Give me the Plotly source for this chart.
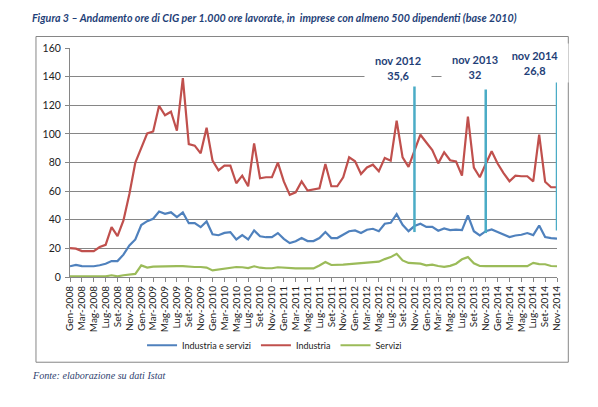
import plotly.graph_objects as go

# ---------------- data ----------------
month_names = ["Gen", "Feb", "Mar", "Apr", "Mag", "Giu", "Lug", "Ago", "Set", "Ott", "Nov", "Dic"]
years = [2008, 2009, 2010, 2011, 2012, 2013, 2014]
categories = [f"{m}-{y}" for y in years for m in month_names][:83]  # Gen-2008 .. Nov-2014

industria_servizi = [
    7.5, 8.4, 7.6, 7.5, 7.5, 8.2, 9.2, 11.1, 11.1, 15.6, 22.0, 26.2,
    36.3, 39.0, 40.7, 45.8, 44.2, 45.2, 41.8, 45.1, 37.6, 37.6, 34.8, 38.8,
    29.9, 29.2, 30.8, 31.4, 26.2, 29.3, 26.2, 32.5, 28.5, 27.8, 27.8, 30.7,
    26.7, 23.7, 25.0, 27.2, 25.1, 25.1, 27.2, 31.4, 27.2, 27.2, 29.7, 32.0,
    32.5, 30.7, 33.0, 33.7, 32.0, 37.2, 37.9, 43.9, 36.5, 32.0, 35.6, 37.2,
    35.0, 35.0, 32.3, 33.9, 32.8, 33.1, 32.8, 43.0, 32.0, 29.0, 32.0, 33.2,
    31.4, 29.7, 27.9, 29.0, 29.5, 30.7, 29.3, 36.0, 27.9, 27.2, 26.8,
]
industria = [
    20.2, 19.8, 18.1, 18.1, 18.1, 20.9, 22.5, 34.8, 28.6, 39.5, 58.0, 80.0,
    89.5, 100.3, 101.7, 119.6, 113.0, 115.5, 102.2, 139.0, 92.8, 91.8, 86.4, 104.3,
    81.3, 74.5, 77.8, 77.8, 65.5, 70.8, 63.4, 93.4, 69.0, 69.7, 69.7, 79.9,
    66.8, 57.4, 59.2, 66.8, 60.4, 61.1, 62.0, 79.0, 63.4, 63.4, 69.7, 83.6,
    80.8, 72.0, 76.5, 78.5, 73.9, 83.2, 81.3, 109.2, 83.6, 76.9, 87.5, 99.4,
    94.0, 88.7, 79.4, 87.1, 81.6, 80.7, 70.8, 112.1, 76.5, 69.7, 79.0, 87.8,
    79.3, 72.6, 66.9, 70.8, 70.4, 70.4, 66.8, 99.4, 66.6, 62.7, 62.7,
]
servizi = [
    0.5, 0.5, 0.5, 0.5, 0.5, 0.5, 0.5, 1.2, 0.5, 1.2, 1.9, 2.2,
    8.1, 6.6, 7.3, 7.5, 7.6, 7.6, 7.6, 7.6, 7.1, 7.0, 7.0, 6.6,
    4.6, 5.3, 5.6, 6.8, 7.0, 6.8, 6.2, 7.5, 6.5, 6.1, 6.1, 6.8,
    6.4, 6.0, 6.0, 6.0, 6.0, 6.0, 8.1, 10.5, 8.4, 8.4, 8.6, 9.0,
    9.3, 10.0, 10.1, 10.7, 10.7, 12.5, 13.9, 16.2, 11.6, 9.8, 9.3, 9.3,
    8.1, 8.6, 7.7, 7.1, 7.8, 9.3, 12.4, 13.9, 9.6, 7.7, 7.6, 7.6,
    7.6, 7.6, 7.6, 7.6, 7.6, 7.6, 9.9, 9.0, 8.9, 7.7, 7.5,
]
series_names = ["Industria e servizi", "Industria", "Servizi"]

callout_months = ["Nov-2012", "Nov-2013", "Nov-2014"]
callout_titles = ["nov 2012", "nov 2013", "nov 2014"]
callout_low = [31.4, 30.7, 32.5]
callout_high = 140

y_ticks = [0, 20, 40, 60, 80, 100, 120, 140, 160]
x_ticks = categories[::2]

title_text = "Figura 3 – Andamento ore di CIG per 1.000 ore lavorate, in  imprese con almeno 500 dipendenti (base 2010)"
source_text = "Fonte: elaborazione su dati Istat"

# ---------------- layout geometry (pixels, in page coordinates) ----------------
OFF = 8                      # default body margin of the html page
W, H = 598 - OFF, 407 - OFF  # figure size so that it fits the window exactly
PX0, PX1 = 70, 556.7         # plot area, page coordinates
PY0, PY1 = 47.5, 276.7


def px(xp):
    return (xp - PX0) / (PX1 - PX0)


def py(yp):
    return (PY1 - yp) / (PY1 - PY0)


colors = ["#4F81BD", "#C0504D", "#9BBB59"]
grid = "#868686"
navy = "#1F3F78"
font = "Lato"

fig = go.Figure()
for name, vals, col in zip(series_names, [industria_servizi, industria, servizi], colors):
    fig.add_trace(go.Scatter(x=categories, y=vals, mode="lines", name=name,
                             line=dict(color=col, width=2.2)))

shapes = [
    dict(type="rect", xref="paper", yref="paper", x0=px(36), x1=px(568), y0=py(362), y1=py(36),
         line=dict(color=grid, width=1), layer="below"),
]
for m, lo in zip(callout_months, callout_low):
    shapes.append(dict(type="line", xref="x", yref="y", x0=m, x1=m, y0=lo, y1=callout_high,
                       line=dict(color="#4BACC6", width=2.5), layer="above"))


def fmt(v):
    s = f"{v:.1f}"
    if s.endswith(".0"):
        s = s[:-2]
    return s.replace(".", ",")


callout_vals = [industria_servizi[categories.index(m)] for m in callout_months]
callout_pos = [(398, 68, 34), (475, 66.5, 42), (535, 63, 36)]
annotations = []
for t, v, (cx, cy, hh) in zip(callout_titles, callout_vals, callout_pos):
    annotations.append(dict(xref="paper", yref="paper", x=px(cx), y=py(cy), xanchor="center",
                            yanchor="middle", showarrow=False, text=f"<b>{t}<br>{fmt(v)}</b>",
                            font=dict(family=font, size=11, color=navy), bgcolor="white",
                            width=64, height=hh, align="center"))

annotations.append(dict(xref="paper", yref="paper", x=px(30), y=py(17), xanchor="left",
                        yanchor="middle", showarrow=False,
                        text=f"<b><i>{title_text}</i></b>",
                        font=dict(family=font, size=10.7, color=navy)))
annotations.append(dict(xref="paper", yref="paper", x=px(30), y=py(375), xanchor="left",
                        yanchor="middle", showarrow=False, text=f"<i>{source_text}</i>",
                        font=dict(family="Liberation Serif", size=10.1, color="#2F3F6F")))

fig.update_layout(
    width=W, height=H, autosize=False,
    margin=dict(l=PX0 - OFF, r=598 - PX1, t=PY0 - OFF, b=407 - PY1, pad=0),
    paper_bgcolor="white", plot_bgcolor="white",
    font=dict(family=font, size=10, color="#222222"),
    showlegend=True,
    legend=dict(orientation="h", x=px(142), y=py(345), xanchor="left", yanchor="middle",
                font=dict(family=font, size=9, color="#222222"), bgcolor="rgba(0,0,0,0)",
                itemwidth=30, tracegroupgap=0),
    shapes=shapes,
    annotations=annotations,
    xaxis=dict(type="category", range=[0, len(categories) - 1], tickmode="array",
               tickvals=x_ticks, ticktext=x_ticks, tickangle=-90, ticks="outside", ticklen=4,
               tickcolor=grid, showline=True, linecolor=grid, linewidth=1, showgrid=False,
               tickfont=dict(family=font, size=10, color="#222222"), fixedrange=True),
    yaxis=dict(range=[0, 160], tickmode="array", tickvals=y_ticks, ticks="outside", ticklen=4,
               tickcolor=grid, showline=True, linecolor=grid, linewidth=1, showgrid=True,
               gridcolor=grid, gridwidth=1, zeroline=False, ticklabelstandoff=2,
               tickfont=dict(family=font, size=10.5, color="#222222"), fixedrange=True),
)

fig.write_html("out.html", config={"displayModeBar": False})
